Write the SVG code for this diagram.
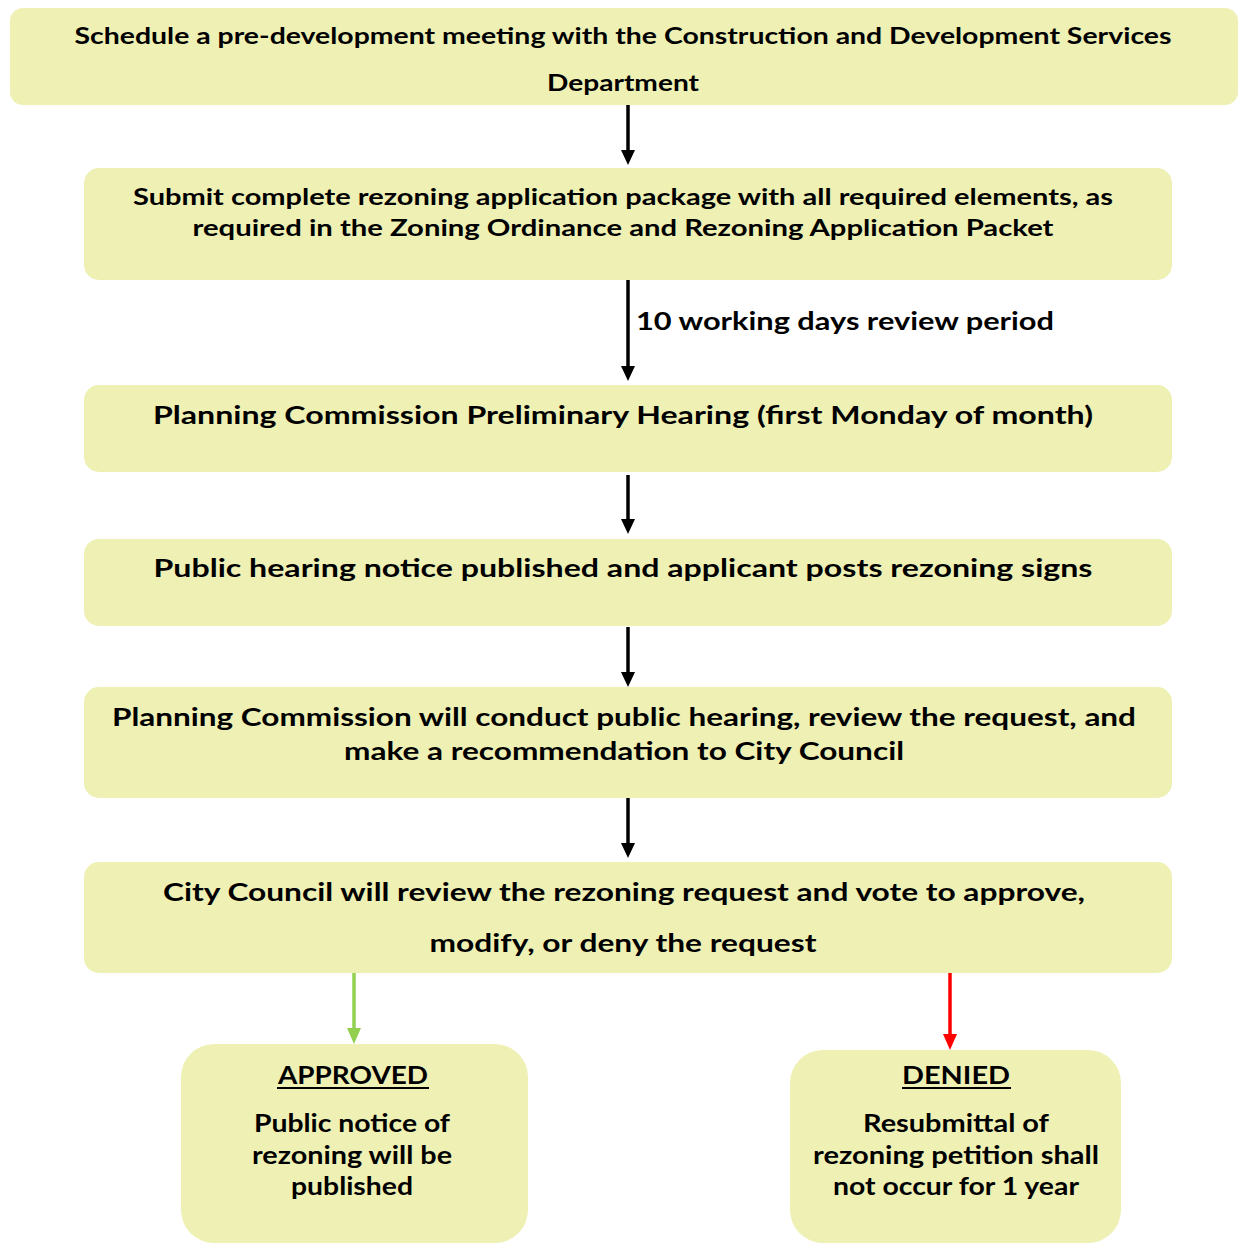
<svg xmlns="http://www.w3.org/2000/svg" width="1238" height="1243" viewBox="0 0 1238 1243">
<style>
.box{fill:#eef0b4;}
.t{font-family:Lato,"Noto Sans","DejaVu Sans",sans-serif;font-weight:bold;fill:#000;text-anchor:middle;}
.s{font-size:22px;}
.m{font-size:25px;}
.c{stroke-width:3.5;fill:none;}
</style>
<g id="connectors">
<line class="c" x1="628" y1="105" x2="628" y2="150" stroke="#000"/><polygon points="621,150 635,150 628,165" fill="#000"/>
<line class="c" x1="628" y1="280" x2="628" y2="366" stroke="#000"/><polygon points="621,366 635,366 628,381" fill="#000"/>
<text class="t m" x="636" y="330" style="text-anchor:start" textLength="418" lengthAdjust="spacingAndGlyphs">10 working days review period</text>
<line class="c" x1="628" y1="475" x2="628" y2="519" stroke="#000"/><polygon points="621,519 635,519 628,534" fill="#000"/>
<line class="c" x1="628" y1="627" x2="628" y2="672" stroke="#000"/><polygon points="621,672 635,672 628,687" fill="#000"/>
<line class="c" x1="628" y1="798" x2="628" y2="843" stroke="#000"/><polygon points="621,843 635,843 628,858" fill="#000"/>
<line class="c" x1="354" y1="973" x2="354" y2="1028" stroke="#92d050"/><polygon points="347,1028 361,1028 354,1044" fill="#92d050"/>
<line class="c" x1="950" y1="973" x2="950" y2="1034" stroke="#ff0000"/><polygon points="943,1034 957,1034 950,1050" fill="#ff0000"/>
</g>
<g id="n1">
<rect class="box" x="10" y="8" width="1228" height="97" rx="13"/>
<text class="t s" x="623" y="44" textLength="1097" lengthAdjust="spacingAndGlyphs">Schedule a pre-development meeting with the Construction and Development Services</text>
<text class="t s" x="623" y="91" textLength="152" lengthAdjust="spacingAndGlyphs">Department</text>
</g>
<g id="n2">
<rect class="box" x="84" y="168" width="1088" height="112" rx="15"/>
<text class="t s" x="623" y="205" textLength="980" lengthAdjust="spacingAndGlyphs">Submit complete rezoning application package with all required elements, as</text>
<text class="t s" x="623" y="236" textLength="861" lengthAdjust="spacingAndGlyphs">required in the Zoning Ordinance and Rezoning Application Packet</text>
</g>
<g id="n3">
<rect class="box" x="84" y="385" width="1088" height="87" rx="15"/>
<text class="t m" x="623" y="424" textLength="940" lengthAdjust="spacingAndGlyphs">Planning Commission Preliminary Hearing (first Monday of month)</text>
</g>
<g id="n4">
<rect class="box" x="84" y="539" width="1088" height="87" rx="15"/>
<text class="t m" x="623" y="577" textLength="939" lengthAdjust="spacingAndGlyphs">Public hearing notice published and applicant posts rezoning signs</text>
</g>
<g id="n5">
<rect class="box" x="84" y="687" width="1088" height="111" rx="15"/>
<text class="t m" x="624" y="726" textLength="1024" lengthAdjust="spacingAndGlyphs">Planning Commission will conduct public hearing, review the request, and</text>
<text class="t m" x="624" y="760" textLength="560" lengthAdjust="spacingAndGlyphs">make a recommendation to City Council</text>
</g>
<g id="n6">
<rect class="box" x="84" y="862" width="1088" height="111" rx="15"/>
<text class="t m" x="624" y="901" textLength="922" lengthAdjust="spacingAndGlyphs">City Council will review the rezoning request and vote to approve,</text>
<text class="t m" x="623" y="952" textLength="387" lengthAdjust="spacingAndGlyphs">modify, or deny the request</text>
</g>
<g id="approved">
<rect class="box" x="181" y="1044" width="347" height="199" rx="33"/>
<text class="t m" x="353" y="1084" textLength="150" lengthAdjust="spacingAndGlyphs">APPROVED</text>
<line x1="277" y1="1088" x2="429" y2="1088" stroke="#000" stroke-width="2"/>
<text class="t m" x="352" y="1132" textLength="196" lengthAdjust="spacingAndGlyphs">Public notice of</text>
<text class="t m" x="352" y="1164" textLength="200" lengthAdjust="spacingAndGlyphs">rezoning will be</text>
<text class="t m" x="352" y="1195" textLength="122" lengthAdjust="spacingAndGlyphs">published</text>
</g>
<g id="denied">
<rect class="box" x="790" y="1050" width="331" height="193" rx="33"/>
<text class="t m" x="956" y="1084" textLength="108" lengthAdjust="spacingAndGlyphs">DENIED</text>
<line x1="902" y1="1088" x2="1011" y2="1088" stroke="#000" stroke-width="2"/>
<text class="t m" x="956" y="1132" textLength="186" lengthAdjust="spacingAndGlyphs">Resubmittal of</text>
<text class="t m" x="956" y="1164" textLength="286" lengthAdjust="spacingAndGlyphs">rezoning petition shall</text>
<text class="t m" x="956" y="1195" textLength="246" lengthAdjust="spacingAndGlyphs">not occur for 1 year</text>
</g>
</svg>
